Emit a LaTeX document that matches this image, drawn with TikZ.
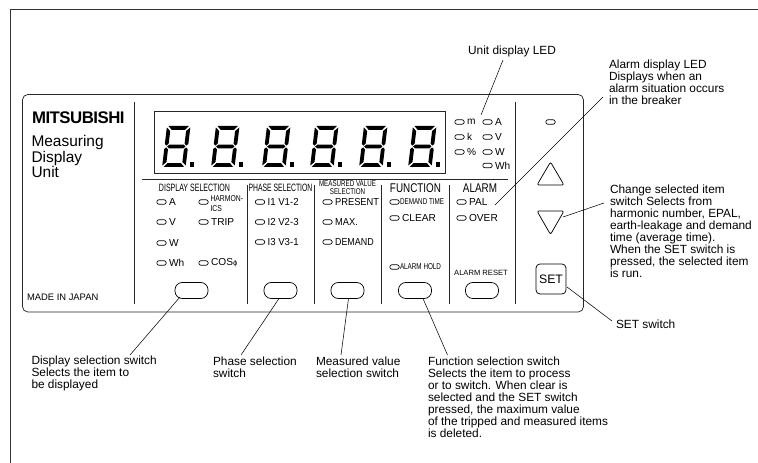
\documentclass[tikz,border=0pt]{standalone}
\usepackage{fontspec}
\setmainfont{Liberation Sans}
\tikzset{
  every node/.style={inner sep=0pt,outer sep=0pt},
  ln/.style={draw=black!85,line width=0.55pt},
  fine/.style={draw=black,line width=0.4pt},
  led/.style={draw=black,line width=0.5pt,rounded corners=1.5pt,minimum width=7pt,minimum height=3.3pt,shape=rectangle},
  sw/.style={draw=black,line width=0.55pt,rounded corners=5.5pt,minimum width=24.8pt,minimum height=12pt,shape=rectangle},
  lab/.style={anchor=west,font=\fontsize{7.6}{8}\selectfont},
  note/.style={anchor=west,align=left,font=\fontsize{8.9}{9}\selectfont},
}
\newcommand{\ledlab}[4][]{\node[led] (#2) at (#3) {};\node[lab,#1] at ([xshift=2.2pt]#2.east) {#4};}
\newcommand{\digit}[1]{%
 \begin{scope}[shift={(#1-23,126)},xslant=0.12]
  \fill (1.5,0)--(22,0)--(18.5,3.8)--(5,3.8)--cycle;
  \fill (0,1.5)--(3.8,5)--(3.8,17.5)--(1.8,19.6)--(0,18)--cycle;
  \fill (23.5,1.5)--(19.7,5)--(19.7,17.5)--(21.7,19.6)--(23.5,18)--cycle;
  \fill (2.6,20.5)--(4.6,18.6)--(18.9,18.6)--(20.9,20.5)--(18.9,22.4)--(4.6,22.4)--cycle;
  \fill (0,39.5)--(3.8,36)--(3.8,23.5)--(1.8,21.4)--(0,23)--cycle;
  \fill (23.5,39.5)--(19.7,36)--(19.7,23.5)--(21.7,21.4)--(23.5,23)--cycle;
  \fill (1.5,41)--(22,41)--(18.5,37.2)--(5,37.2)--cycle;
 \end{scope}
 \fill (#1,162) rectangle (#1+4.3,167);}
\begin{document}
\begin{tikzpicture}[x=0.75pt,y=-0.75pt]
\useasboundingbox (0,0) rectangle (758,463);
\fill[white] (0,0) rectangle (758,463);
\draw[draw=black!80,line width=0.75pt] (10,463)--(10,10)--(758,10);
% panel
\draw[ln,rounded corners=4pt] (22.5,94.5) rectangle (583.5,312);
% separators
\draw[ln] (134,102)--(134,304);
\draw[ln] (142,179)--(508,179);
\draw[ln] (247,185)--(247,304);
\draw[ln] (314,185)--(314,304);
\draw[ln] (381,185)--(381,304);
\draw[ln] (449,185)--(449,304);
\draw[ln] (515,102)--(515,304);
% display
\draw[ln] (154.5,111.5) rectangle (445.5,173.5);
\digit{190}\digit{239}\digit{290}\digit{338}\digit{387}\digit{436}
% brand
\node[anchor=west,font=\bfseries\fontsize{12.6}{13}\selectfont] (brand) at (32,117.5) {\addfontfeature{LetterSpace=-3}MITSUBISHI};
\node[anchor=west,align=left,font=\fontsize{11.6}{11.6}\selectfont] (title) at (31.5,156.5) {Measuring\\Display\\Unit};
\node[anchor=west,font=\fontsize{7.05}{8}\selectfont] (made) at (27,297) {MADE IN JAPAN};
% headings
\node[font=\fontsize{8}{9}\selectfont] (h1) at (194.5,188) {\addfontfeature{FakeStretch=0.66}DISPLAY SELECTION};
\node[font=\fontsize{8}{9}\selectfont] (h2) at (280.5,188) {\addfontfeature{FakeStretch=0.64}PHASE SELECTION};
\node[align=center,font=\fontsize{6.3}{6}\selectfont] (h3) at (347.5,188) {\addfontfeature{FakeStretch=0.74}MEASURED VALUE\\\addfontfeature{FakeStretch=0.74}SELECTION};
\node[font=\fontsize{9.5}{10}\selectfont] (h4) at (415.5,188) {\addfontfeature{FakeStretch=0.78}FUNCTION};
\node[font=\fontsize{9.5}{10}\selectfont] (h5) at (480,188) {\addfontfeature{FakeStretch=0.78}ALARM};
% LEDs
\ledlab{la}{161.5,202}{A}
\ledlab{lv}{161.5,222}{V}
\ledlab{lw}{161.5,243}{W}
\ledlab{lwh}{161.5,263}{Wh}
\node[led] (lh) at (203.5,202) {};
\node[anchor=west,align=left,font=\fontsize{6.4}{7}\selectfont] (lht) at (210.5,203.5) {\addfontfeature{FakeStretch=0.8}HARMON-\\\addfontfeature{FakeStretch=0.8}ICS};
\ledlab{lt}{203.5,222}{TRIP}
\ledlab{lc}{203.5,263}{COS{\fontspec{DejaVu Sans}\fontsize{5}{6}\selectfont ϕ}}
\ledlab{pa}{260,202}{\addfontfeature{FakeStretch=0.95}I1 V1-2}
\ledlab{pb}{260,222}{\addfontfeature{FakeStretch=0.95}I2 V2-3}
\ledlab{pc}{260,242}{\addfontfeature{FakeStretch=0.95}I3 V3-1}
\ledlab{ma}{327.5,202}{\addfontfeature{FakeStretch=0.92}PRESENT}
\ledlab{mb}{327.5,222}{\addfontfeature{FakeStretch=0.92}MAX.}
\ledlab{mc}{327.5,242}{\addfontfeature{FakeStretch=0.88}DEMAND}
\node[led] (fa) at (394.5,202) {};
\node[lab,font=\fontsize{6.4}{7}\selectfont] at (400,202) {\addfontfeature{FakeStretch=0.74}DEMAND TIME};
\ledlab{fb}{394.5,218}{CLEAR}
\node[led] (fc) at (394.5,267) {};
\node[lab,font=\fontsize{6.4}{7}\selectfont] at (400,267) {\addfontfeature{FakeStretch=0.74}ALARM HOLD};
\ledlab{aa}{461.5,202}{PAL}
\ledlab{ab}{461.5,218}{OVER}
\node[font=\fontsize{5.7}{6}\selectfont] (arst) at (481,273) {ALARM RESET};
% unit LEDs
\ledlab{um}{459.5,122}{m}
\ledlab{uk}{459.5,137}{k}
\ledlab{up}{459.5,152}{\%}
\ledlab{ua}{487.5,122}{A}
\ledlab{uv}{487.5,137}{V}
\ledlab{uw}{487.5,152}{W}
\ledlab{uh}{487.5,165.5}{Wh}
\node[led] (top) at (550.5,122) {};
% switches
\node[sw] (s1) at (191.5,290.5) {};
\node[sw] (s2) at (280.5,290.5) {};
\node[sw] (s3) at (347.5,290.5) {};
\node[sw] (s4) at (415,290.5) {};
\node[sw] (s5) at (482,290.5) {};
% arrows
\draw[line width=0.55pt,line join=round,rounded corners=1.5pt] (550.5,162)--(564,185)--(537,185)--cycle;
\draw[line width=0.55pt,line join=round,rounded corners=1.5pt] (537,211)--(564,211)--(550.5,234.5)--cycle;
\coordinate (dn) at (563,217);
\node[draw=black,line width=0.55pt,rounded corners=3pt,minimum width=22.5pt,minimum height=22.5pt,shape=rectangle,font=\fontsize{9.2}{10}\selectfont] (set) at (551,279) {SET};
% notes
\node[note,anchor=center] (n0) at (512,51) {Unit display LED};
\node[note] (n1) at (609,82) {Alarm display LED\\Displays when an\\alarm situation occurs\\in the breaker};
\node[note] (n2) at (610,231) {Change selected item\\switch Selects from\\harmonic number, EPAL,\\earth-leakage and demand\\time (average time).\\When the SET switch is\\pressed, the selected item\\is run.};
\node[note] (n3) at (616,324) {SET switch};
\node[note] (n4) at (31.5,373) {Display selection switch\\Selects the item to\\be displayed};
\node[note] (n5) at (213,367) {Phase selection\\switch};
\node[note] (n6) at (316,367) {Measured value\\selection switch};
\node[note] (n7) at (428,397) {Function selection switch\\Selects the item to process\\or to switch. When clear is\\selected and the SET switch\\pressed, the maximum value\\of the tripped and measured items\\is deleted.};
% connectors
\coordinate (c0a) at (503,60); \coordinate (c0b) at (481,115);
\draw[fine] (c0a)--(c0b);
\coordinate (c1a) at (603,97); \coordinate (c1b) at (495,205);
\draw[fine] (c1a)--(c1b);
\coordinate (c2a) at (604,203);
\draw[fine] (c2a)--(dn);
\coordinate (c3a) at (612,321); \coordinate (c3b) at (567,287);
\draw[fine] (c3b)--(c3a);
\coordinate (c4a) at (130,355); \coordinate (c4b) at (180,297);
\draw[fine] (c4b)--(c4a);
\coordinate (c5a) at (241,355); \coordinate (c5b) at (279,298.5);
\draw[fine] (c5b)--(c5a);
\coordinate (c6a) at (341,355); \coordinate (c6b) at (348.5,298.5);
\draw[fine] (c6b)--(c6a);
\coordinate (c7a) at (447.5,355); \coordinate (c7b) at (423,298.5);
\draw[fine] (c7b)--(c7a);
\end{tikzpicture}
\end{document}
